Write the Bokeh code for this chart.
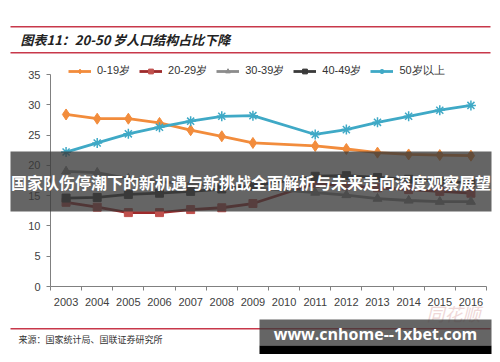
import math
from bokeh.plotting import figure
from bokeh.models import (Label, BoxAnnotation, Legend, LegendItem, FixedTicker,
                          BasicTickFormatter)
from bokeh.embed import file_html
from bokeh.resources import INLINE

nan = float("nan")
years = [2003, 2004, 2005, 2006, 2007, 2008, 2009, 2010, 2011, 2012, 2013, 2014, 2015, 2016]
age_0_19 = [28.4, 27.7, 27.7, 27.0, 25.8, 24.8, 23.7, nan, 23.2, 22.7, 22.1, 21.8, 21.7, 21.6]
age_20_29 = [13.9, 13.1, 12.2, 12.2, 12.7, 13.0, 13.7, nan, 17.0, 16.6, 16.3, 16.0, 15.7, 15.4]
age_30_39 = [19.0, 18.8, 17.8, 17.3, 16.9, 16.6, 16.3, nan, 15.5, 15.1, 14.5, 14.2, 14.0, 14.0]
age_40_49 = [14.6, 14.7, 15.2, 15.4, 15.7, 16.1, 16.6, nan, 18.2, 18.3, 18.0, 17.7, 17.4, 17.1]
age_50_plus = [22.2, 23.7, 25.2, 26.3, 27.3, 28.1, 28.2, nan, 25.1, 25.9, 27.1, 28.1, 29.1, 29.9]
series_names = ["0-19岁", "20-29岁", "30-39岁", "40-49岁", "50岁以上"]
y_ticks = [0, 5, 10, 15, 20, 25, 30, 35]

title_text = "图表11：20-50 岁人口结构占比下降"
source_text = "来源：国家统计局、国联证券研究所"
banner_text = "国家队伤停潮下的新机遇与新挑战全面解析与未来走向深度观察展望"
url_text = "www.cnhome--1xbet.com"
logo_text = "同花顺"

FONT = "Liberation Sans"
CJK = "Noto Sans CJK SC"

# the frame fills the whole canvas; axes are pinned inside it
p = figure(width=492, height=354, output_backend="svg", toolbar_location=None,
           x_range=(2000.8945, 2016.6927), y_range=(-11.226, 47.217),
           min_border=0)
p.outline_line_color = None
p.grid.visible = False
p.background_fill_color = "white"
p.border_fill_color = "white"

# axes
yax = p.yaxis[0]
yax.fixed_location = years[0] - 0.5
yax.bounds = (y_ticks[0], y_ticks[-1])
yax.ticker = FixedTicker(ticks=y_ticks)
yax.axis_line_color = "#808080"
yax.major_tick_line_color = "#808080"
yax.major_tick_out = 4
yax.major_tick_in = 0
yax.minor_tick_line_color = None
yax.major_label_text_font = FONT
yax.major_label_text_font_size = "11px"
yax.major_label_text_color = "#404040"
yax.major_label_standoff = 6

xax = p.xaxis[0]
xax.fixed_location = 0
xax.bounds = (years[0] - 0.5, years[-1] + 0.5)
boundaries = [y - 0.5 for y in years] + [years[-1] + 0.5]
xax.ticker = FixedTicker(ticks=years, minor_ticks=boundaries)
xax.formatter = BasicTickFormatter(use_scientific=False)
xax.axis_line_color = "#808080"
xax.major_tick_line_color = None
xax.major_tick_out = 0
xax.major_tick_in = 0
xax.minor_tick_line_color = "#808080"
xax.minor_tick_out = 4
xax.minor_tick_in = 0
xax.major_label_text_font = FONT
xax.major_label_text_font_size = "11px"
xax.major_label_text_color = "#404040"
xax.major_label_standoff = 7

styles = [
    (age_0_19, "#F28C3C", "#F28C3C", "diamond", 11),
    (age_20_29, "#9E2A2B", "#C0504D", "square", 8),
    (age_30_39, "#8C8C8C", "#8C8C8C", "triangle", 9),
    (age_40_49, "#3A3A3A", "#3A3A3A", "square", 8),
    (age_50_plus, "#3FA9C6", "#3FA9C6", "asterisk", 10),
]

items = []
for name, (vals, lc, mc, marker, size) in zip(series_names, styles):
    xs = [x for x, v in zip(years, vals) if not math.isnan(v)]
    ys = [v for v in vals if not math.isnan(v)]
    lr = p.line(xs, ys, line_color=lc, line_width=2.8)
    if marker == "asterisk":
        sr = p.scatter(xs, ys, marker=marker, size=size, line_color=mc, line_width=1.5)
    else:
        sr = p.scatter(xs, ys, marker=marker, size=size, fill_color=mc, line_color=mc)
    items.append(LegendItem(label=name, renderers=[lr, sr]))

legend = Legend(items=items, orientation="horizontal", location=(68, 276),
                border_line_color=None, background_fill_alpha=0, padding=0, margin=0,
                spacing=9, glyph_width=23, glyph_height=12, label_standoff=6,
                label_text_font=FONT, label_text_font_size="11px",
                label_text_color="#333333", label_height=12)
p.add_layout(legend, "center")


def box(left, right, bottom, top, color, alpha):
    p.add_layout(BoxAnnotation(left=left, right=right, top=top, bottom=bottom,
                               left_units="screen", right_units="screen",
                               top_units="screen", bottom_units="screen",
                               fill_color=color, fill_alpha=alpha, line_color=None))


# header / footer decoration (screen units: x from left, y from bottom)
RED = "#C8384A"
for top in (328.5, 302.5, 26.5):
    box(10, 490, top - 1.5, top, RED, 1)

p.add_layout(Label(x=20, y=315, x_units="screen", y_units="screen", text=title_text,
                   text_font=CJK, text_font_size="13px", text_font_style="bold italic",
                   text_color="#222222", text_baseline="middle", text_align="left"))
p.add_layout(Label(x=18, y=15, x_units="screen", y_units="screen", text=source_text,
                   text_font=CJK, text_font_size="9px", text_color="#333333",
                   text_baseline="middle", text_align="left"))
p.add_layout(Label(x=453, y=42, x_units="screen", y_units="screen", text=logo_text,
                   text_font=CJK, text_font_size="18px", text_font_style="italic",
                   text_color="#EFD8D8", text_baseline="middle", text_align="center"))

# overlay banners
box(10, 491, 143, 203, "#3A3A3A", 0.78)
p.add_layout(Label(x=250.5, y=173, x_units="screen", y_units="screen", text=banner_text,
                   text_font=CJK, text_font_size="16px", text_font_style="bold",
                   text_color="white", text_baseline="middle", text_align="center"))
box(259, 491, 9, 35, "#3A3A3A", 0.78)
box(259, 491, 0, 9, "black", 1)
p.add_layout(Label(x=375, y=21, x_units="screen", y_units="screen", text=url_text,
                   text_font="Open Sans", text_font_size="16px", text_font_style="bold",
                   text_color="white", text_baseline="middle", text_align="center"))

open("out.html", "w").write(file_html(p, INLINE))
